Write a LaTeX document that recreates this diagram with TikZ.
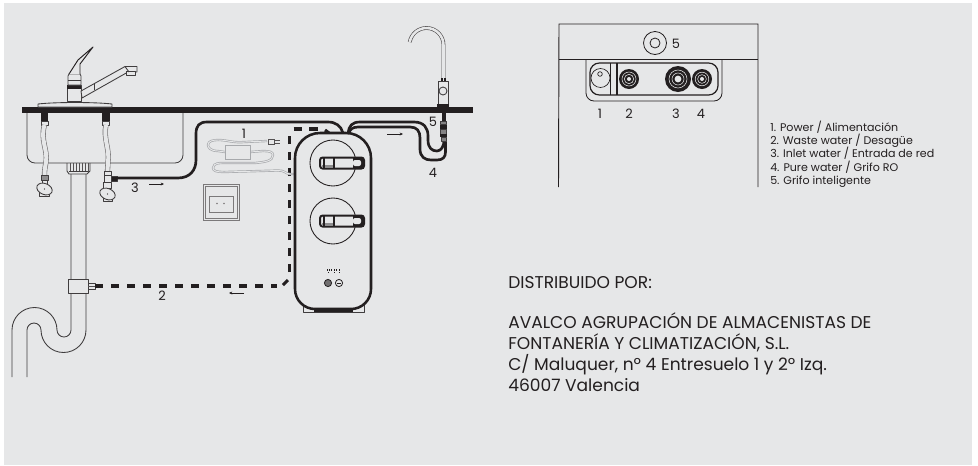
\documentclass[tikz,border=0pt]{standalone}
\usepackage{fontspec}
\setmainfont{Poppins}
\usetikzlibrary{arrows.meta}
\definecolor{bgc}{HTML}{E6E7E8}
\definecolor{ink}{HTML}{231F20}
\definecolor{cordc}{HTML}{A7A9AC}
\tikzset{
 thin line/.style={draw=ink!85!bgc,line width=0.65pt,line join=round},
 hair/.style={draw=ink!75!bgc,line width=0.42pt,line join=round},
 pipeline/.style={draw=ink,line width=2pt,line cap=round,line join=round},
 wasteline/.style={draw=ink,line width=2.3pt,dash pattern=on 6pt off 6pt},
 wastebit/.style={draw=ink,line width=2.3pt},
 unit/.style={draw=ink,line width=1.9pt},
 flex/.style={draw=ink!60!bgc,line width=0.45pt,double=bgc,double distance=3pt},
 cord/.style={draw=cordc,line width=0.5pt,double=bgc,double distance=0.7pt},
 lbl/.style={inner sep=0pt,text=ink,font=\fontsize{9.7pt}{10pt}\selectfont},
 legend/.style={inner sep=0pt,text=ink,anchor=base west,font=\fontsize{8.3pt}{9pt}\selectfont},
 body/.style={inner sep=0pt,text=ink,anchor=base west,font=\fontsize{12.8pt}{13pt}\selectfont},
 flowarrow/.style={draw=ink,line width=0.5pt,-{Stealth[length=2.5pt,width=2.2pt]}},
}
\begin{document}
\begin{tikzpicture}[x=0.75pt,y=-0.75pt]
\useasboundingbox (0,0) rectangle (978,465);
\fill[bgc] (4,3) rectangle (972,465);

% --- sink
\draw[thin line] (27,113) -- (27,155) arc[start angle=180,end angle=90,radius=8] -- (175,163) arc[start angle=90,end angle=0,radius=8] -- (183,113);
% drain strainer
\draw[thin line] (67,163) -- (67,171) -- (69,174) -- (87,174) -- (90,171) -- (90,163);
\foreach \x in {70,73,...,88} \draw[hair] (\x,163) -- (\x,172);
\draw[thin line] (69,171.5) -- (88,171.5);
% waste pipe + trap
\draw[thin line] (71,174) -- (71,330) arc[start angle=0,end angle=180,radius=7] arc[start angle=0,end angle=-180,radius=22.5] -- (12,377);
\draw[thin line] (86,174) -- (86,330) arc[start angle=0,end angle=180,radius=22.5] arc[start angle=0,end angle=-180,radius=7] -- (27,377);
% clamp
\draw[thin line,fill=bgc] (68,279) rectangle (88,293);
\draw[thin line,fill=bgc] (88,283) rectangle (95,289);
\draw[hair] (88,286) -- (95,286);

% --- worktop
\fill[ink] (22,107) rectangle (473,113);

% --- mixer tap
\draw[thin line,fill=bgc] (38,107) -- (38,104) .. controls (55,102) and (95,102) .. (112,104) -- (112,107) -- cycle;
\draw[thin line,fill=bgc] (67,85) rectangle (81,101);
\fill[ink] (67,85) rectangle (81,88.5);
\draw[thin line,fill=bgc] (68,85) -- (68,76) -- (69,74) -- (80,74) -- (81,76) -- (81,85) -- cycle;
\draw[thin line] (68,80) -- (81,80);
\draw[draw=ink,line width=0.7pt,fill=bgc,line join=round] (69,74) -- (78,60) -- (93,47) -- (80,64) -- (80,74);
\draw[thin line,fill=bgc] (81,91) -- (125,66.5) -- (137,66.5) -- (137,72) -- (128,72) -- (82,98) -- cycle;
\draw[thin line] (94,84) -- (94,90);
\draw[thin line,fill=bgc] (126,71.5) rectangle (135,75.5);
\draw[thin line] (125,66.5) -- (129,72);

% --- hot and cold supply
\fill[ink] (41,113) rectangle (48,121);
\fill[ink] (102,113) rectangle (110,121);
\draw[thin line,fill=bgc] (41,121) rectangle (48,125);
\draw[thin line,fill=bgc] (102.5,121) rectangle (109.5,125);
\draw[flex] (44.5,125) .. controls (40,140) and (48,150) .. (46,162) .. controls (45,168) and (44.5,170) .. (44.5,175);
\draw[flex] (106,125) .. controls (103,138) and (110,150) .. (108,162) -- (107.5,171);
\draw[thin line,fill=ink!45!bgc] (41,175) rectangle (48,180);
\draw[thin line,fill=bgc] (42,180) -- (47,180) -- (47,184) -- (42,184) -- cycle;
\draw[thin line,fill=bgc] (39,189) rectangle (49,196);
\draw[thin line,fill=bgc,rotate around={-22:(44.5,189)}] (44.5,189) ellipse[x radius=8,y radius=5.5];
\fill[ink] (44.5,189) circle[radius=.7];
\draw[thin line,fill=bgc] (104,171) rectangle (111,175);
\draw[thin line,fill=bgc] (104,175) rectangle (111,182);
\draw[thin line,fill=bgc] (103.5,182) rectangle (111.5,188);
\draw[thin line,fill=bgc] (103,195) rectangle (112,201);
\draw[thin line,fill=bgc,rotate around={-22:(107.5,194)}] (107.5,194) ellipse[x radius=8,y radius=5.5];
\fill[ink] (107.5,194) circle[radius=.7];
\draw[thin line,fill=ink] (111,176) rectangle (117,181);
\coordinate (inletA) at (117,178);
\coordinate (unitTop) at (343,133);
\draw[pipeline] (inletA) -- (178,178) .. controls (190,178) and (196,170) .. (196,160) -- (196,134) .. controls (196,126) and (199,122) .. (207,122) -- (328,122) .. controls (336,122) and (341,126) .. (unitTop);

% --- waste (dashed)
\coordinate (wasteA) at (95,286);
\draw[wasteline] (wasteA) -- (277,286);
\draw[wastebit] (283,285) -- (288,280);
\draw[wasteline] (289.5,272) -- (289.5,135);
\draw[wastebit] (293.5,129) -- (302,129);
\draw[wastebit] (309,129) -- (318,129);
\draw[wastebit] (325,130) -- (329,133);

% --- adapter
\draw[cord] (225,152) -- (218,151) .. controls (210,151) and (208,147) .. (208,145) .. controls (208,141) and (213,140) .. (218,140) .. controls (228,140) and (232,143) .. (245,142) -- (267,141);
\draw[cord] (250,152) -- (263,151) .. controls (270,151) and (273,152) .. (273,155) .. controls (273,161) and (265,162) .. (255,163) -- (222,163) .. controls (214,163) and (213,166) .. (213,168) .. controls (213,171) and (217,172) .. (224,172) -- (278,170.5) .. controls (284,170) and (286,174) .. (290,174) -- (295,174);
\draw[draw=cordc,line width=0.5pt,fill=bgc] (225,145) rectangle (250,159);
\draw[draw=ink!75!bgc,line width=0.45pt,fill=bgc] (268,139) rectangle (274,144);
\draw[draw=ink!75!bgc,line width=0.45pt] (274,140) -- (280,140) (274,143) -- (280,143);

% --- wall socket
\draw[draw=ink!55!bgc,line width=0.5pt] (203,184) rectangle (239,220);
\draw[draw=ink!55!bgc,line width=0.5pt] (205,186) rectangle (237,218);
\draw[draw=ink!55!bgc,line width=0.5pt] (209,196) rectangle (233,212);
\fill[ink!55!bgc] (217,203.5) circle[radius=.9] (224,203.5) circle[radius=.9];

% --- purifier
\draw[thin line,fill=bgc] (303,304) -- (303,312) -- (364,312) -- (364,304);
\draw[draw=ink,line width=1.4pt] (314,311) -- (353,311);
\draw[unit,fill=bgc] (295,158) arc[start angle=180,end angle=270,radius=25] -- (346,133) arc[start angle=270,end angle=360,radius=25] -- (371,289) arc[start angle=0,end angle=90,radius=20] -- (315,309) arc[start angle=90,end angle=180,radius=20] -- cycle;
\foreach \cy in {163,221}{
  \draw[draw=ink,line width=0.65pt] (333,\cy) circle[radius=23];
  \draw[draw=ink,line width=1.5pt,fill=bgc,rounded corners=2pt] (320,\cy-5.5) rectangle (364,\cy+5.5);
  \fill[ink!45!bgc] (322,\cy+2) rectangle (334,\cy+4.5);
  \draw[draw=ink,line width=0.8pt] (324,\cy-5.5) -- (324,\cy+5.5);
  \draw[draw=ink,line width=0.9pt] (334,\cy-5.5) -- (334,\cy+5.5);
  \fill[ink] (353,\cy-5.5) -- (364,\cy-5.5) -- (364,\cy+5.5) -- (353,\cy+5.5) -- cycle;
  \fill[bgc,rounded corners=1.5pt] (353,\cy-3) rectangle (361,\cy+3);
}
\foreach \x in {327,329,331,334,336,339}{ \fill[ink] (\x,268.5) rectangle (\x+1.4,270.5); }
\foreach \x in {328,333.5,339}{ \fill[ink] (\x,271.5) rectangle (\x+1.2,273); }
\draw[draw=ink,line width=0.6pt,fill=ink!60!bgc] (328,283) circle[radius=3.6];
\draw[draw=ink,line width=0.6pt] (339,283) circle[radius=3.6];
\draw[draw=ink,line width=0.7pt] (337,283) -- (341,283);

% --- pure-water lines
\coordinate (unitR) at (348,133);
\draw[pipeline] (unitR) .. controls (349,126) and (352,122) .. (360,122) -- (414,122) .. controls (424,122) and (428,128) .. (428,136) -- (428,140) .. controls (428,148) and (432,151) .. (437,151) .. controls (441,151) and (444,146) .. (444,141);
\draw[pipeline] (unitR) .. controls (350,130) and (352,127) .. (358,127) -- (410,127) .. controls (417,127) and (420,131) .. (420,138) -- (420,149) .. controls (420,157) and (425,160) .. (431,160) -- (437,160) .. controls (443,160) and (445.5,157) .. (445.5,152) -- (445.5,142);

% --- RO tap
\draw[draw=ink!80!bgc,line width=0.45pt,double=bgc,double distance=1.9pt] (443.5,81) -- (443.5,45) arc[start angle=0,end angle=-170,radius=17];
\draw[thin line,fill=bgc] (438,81) rectangle (448,104);
\draw[draw=ink,line width=0.8pt] (442,78) -- (442,81) (445,78) -- (445,81);
\draw[thin line,fill=bgc] (443,91) circle[radius=4];
\fill[ink] (437,104) rectangle (449,107);
\fill[ink] (441.5,113) rectangle (445.5,121);
\draw[thin line,fill=ink!50!bgc] (440.5,121) rectangle (446.5,124);
\fill[ink] (440,125) rectangle (447,129);
\draw[thin line,fill=ink!50!bgc] (440.5,129) rectangle (446.5,134);
\fill[ink] (440,134) rectangle (447,137);
\draw[thin line,fill=ink!50!bgc] (441,137) rectangle (446,141);

% --- diagram labels
\node[lbl] (n1) at (244,134) {1};
\node[lbl] (n3) at (135,188) {3};
\node[lbl] (n2) at (162,296) {2};
\node[lbl] (n4) at (433,173) {4};
\node[lbl] (n5) at (433,122) {5};
\coordinate (a3s) at (149,184); \coordinate (a3e) at (164,184);
\coordinate (a2s) at (244,293); \coordinate (a2e) at (229,293);
\coordinate (a4s) at (387,134); \coordinate (a4e) at (403,134);
\draw[flowarrow] (a3s) -- (a3e);
\draw[flowarrow] (a2s) -- (a2e);
\draw[flowarrow] (a4s) -- (a4e);

% --- back panel inset
\draw[draw=ink,line width=0.7pt] (558.5,187) -- (559,24) -- (758,24) -- (758,187);
\draw[draw=ink,line width=0.7pt] (559,59) -- (758,59);
\draw[draw=ink,line width=0.6pt] (655,43) circle[radius=11.5];
\draw[draw=ink,line width=0.6pt] (655,43) circle[radius=5];
\node[lbl] (p5) at (676,43.5) {5};
\draw[draw=ink,line width=0.6pt] (586,59) -- (586,93) arc[start angle=180,end angle=90,radius=8] -- (714,101) arc[start angle=90,end angle=0,radius=8] -- (722,59);
\draw[draw=ink,line width=0.9pt,rounded corners=7pt] (590,63) rectangle (718,95);
\draw[draw=ink,line width=0.5pt] (610,63) -- (610,95);
\draw[draw=ink,line width=0.9pt] (617,63) -- (617,95);
\draw[draw=ink,line width=0.5pt] (600.5,78) circle[radius=9.5];
\draw[draw=ink,line width=0.5pt] (600,74) circle[radius=2.3];
\foreach \cx/\r/\ra/\rb/\rc in {629/10/7/4.7/2,678/13/9/6/3.4,702/10/6.8/4.4/2}{
  \fill[ink] (\cx,79) circle[radius=\r];
  \draw[draw=bgc,line width=0.4pt] (\cx,79) circle[radius=\ra];
  \draw[draw=bgc,line width=0.4pt] (\cx,79) circle[radius=\rb];
  \fill[bgc] (\cx,79) circle[radius=\rc];
}
\node[lbl] (p1) at (600,113.5) {1};
\node[lbl] (p2) at (629,113.5) {2};
\node[lbl] (p3) at (676,113.5) {3};
\node[lbl] (p4) at (701,113.5) {4};

% --- legend
\node[legend] (l1) at (770,131) {1. Power / Alimentación};
\node[legend] (l2) at (770,144.4) {2. Waste water / Desagüe};
\node[legend] (l3) at (770,157.7) {3. Inlet water / Entrada de red};
\node[legend] (l4) at (770,171) {4. Pure water / Grifo RO};
\node[legend] (l5) at (770,184.4) {5. Grifo inteligente};

% --- distributor text
\node[body] (d0) at (508,288) {DISTRIBUIDO POR:};
\node[body] (d1) at (508,328) {AVALCO AGRUPACIÓN DE ALMACENISTAS DE};
\node[body] (d2) at (508,349) {FONTANERÍA Y CLIMATIZACIÓN, S.L.};
\node[body] (d3) at (508,370) {C/ Maluquer, nº 4 Entresuelo 1 y 2º Izq.};
\node[body] (d4) at (508,391) {46007 Valencia};
\end{tikzpicture}
\end{document}
